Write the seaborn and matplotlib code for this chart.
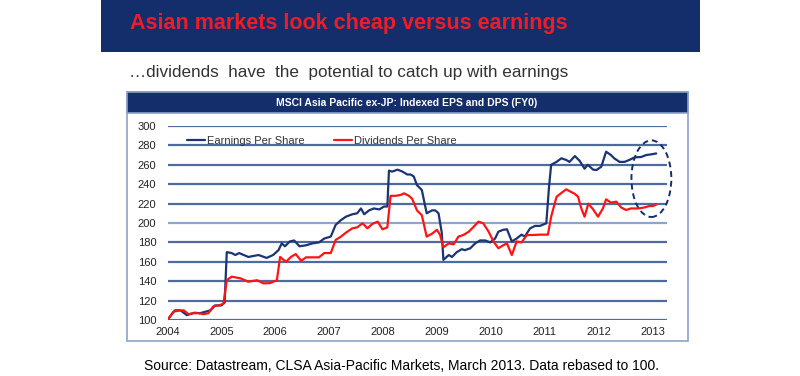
import matplotlib
matplotlib.use("Agg")
import matplotlib.pyplot as plt
from matplotlib.patches import Rectangle, Ellipse
import pandas as pd
import seaborn as sns

# data (decimal years, index rebased to 100)
eps_years = [2004.00, 2004.08, 2004.14, 2004.24, 2004.36, 2004.50, 2004.60, 2004.67, 2004.80, 2004.88,
             2005.00, 2005.06, 2005.10, 2005.19, 2005.26, 2005.33, 2005.50, 2005.69, 2005.84, 2005.96,
             2006.06, 2006.12, 2006.18, 2006.27, 2006.35, 2006.45, 2006.57, 2006.69, 2006.81, 2006.91,
             2007.03, 2007.12, 2007.22, 2007.31, 2007.43, 2007.52, 2007.59, 2007.65, 2007.74, 2007.83,
             2007.93, 2008.02, 2008.08, 2008.11, 2008.17, 2008.27, 2008.36, 2008.45, 2008.51, 2008.57,
             2008.63, 2008.72, 2008.81, 2008.91, 2008.97, 2009.03, 2009.09, 2009.12, 2009.22, 2009.28,
             2009.37, 2009.46, 2009.52, 2009.62, 2009.71, 2009.80, 2009.90, 2009.99, 2010.08, 2010.14,
             2010.23, 2010.30, 2010.39, 2010.48, 2010.57, 2010.63, 2010.73, 2010.82, 2010.91, 2011.03,
             2011.08, 2011.12, 2011.22, 2011.31, 2011.40, 2011.46, 2011.56, 2011.65, 2011.74, 2011.80,
             2011.90, 2011.96, 2012.05, 2012.14, 2012.23, 2012.29, 2012.39, 2012.48, 2012.57, 2012.67,
             2012.79, 2012.88, 2012.98, 2013.07]
eps_values = [100, 106, 110, 110, 105, 107.5, 107, 108, 110, 115,
              115, 118, 170, 169, 167, 169, 165, 167, 164, 167,
              172, 179, 176, 181, 182, 176, 177, 179, 180, 184,
              186, 198, 203, 206.5, 209, 210, 215, 209, 213, 215,
              214, 217, 217, 254, 253, 255, 253, 250, 250, 248,
              239, 234, 210, 213, 213, 210, 190, 162, 167, 165,
              170, 173, 172, 174, 179, 182, 182, 180, 184, 191,
              193, 193.5, 181, 184, 188, 186, 194.5, 197, 197, 199.7,
              237, 260, 263, 266.7, 265, 263, 269, 264, 256, 260,
              255, 254.6, 258, 273.5, 270, 266.7, 263, 263, 265, 267.7,
              268, 270, 270.8, 271.7]

dps_years = [2004.00, 2004.11, 2004.20, 2004.30, 2004.39, 2004.48, 2004.58, 2004.67, 2004.76, 2004.85,
             2004.98, 2005.04, 2005.10, 2005.19, 2005.35, 2005.50, 2005.66, 2005.78, 2005.90, 2006.03,
             2006.09, 2006.20, 2006.29, 2006.38, 2006.48, 2006.57, 2006.70, 2006.81, 2006.91, 2007.03,
             2007.12, 2007.22, 2007.31, 2007.43, 2007.52, 2007.62, 2007.71, 2007.80, 2007.90, 2007.99,
             2008.08, 2008.14, 2008.23, 2008.33, 2008.39, 2008.48, 2008.54, 2008.63, 2008.72, 2008.81,
             2008.91, 2009.00, 2009.06, 2009.12, 2009.22, 2009.31, 2009.40, 2009.49, 2009.59, 2009.68,
             2009.77, 2009.86, 2009.96, 2010.05, 2010.14, 2010.23, 2010.30, 2010.39, 2010.48, 2010.57,
             2010.67, 2010.76, 2010.91, 2011.06, 2011.12, 2011.22, 2011.31, 2011.40, 2011.49, 2011.56,
             2011.62, 2011.68, 2011.74, 2011.81, 2011.90, 2011.99, 2012.08, 2012.14, 2012.23, 2012.33,
             2012.42, 2012.51, 2012.60, 2012.73, 2012.85, 2012.94, 2013.01, 2013.07]
dps_values = [100, 108.6, 109.6, 110, 106, 107, 107, 106, 107, 114,
              115.5, 117, 141, 144.7, 143, 139.5, 141, 137.8, 138, 141,
              165, 160, 165, 168, 161, 164.6, 164.6, 164.6, 169, 169,
              182.5, 186, 190, 194.5, 195.5, 199.7, 194.5, 199, 201.4, 193.5,
              195.5, 228, 228, 229, 230.6, 228, 225, 213, 208, 186,
              189, 193, 187.6, 175, 179, 178, 186, 187.6, 191, 196,
              201.4, 199.7, 191, 181, 174, 177, 179, 167, 181, 180,
              187.6, 187.6, 188, 188, 206.5, 227, 231, 234.7, 232, 230,
              227, 215, 206.5, 220, 214, 206.5, 215, 224.4, 221, 222,
              216, 213.4, 215, 215, 216, 217.5, 217.5, 219]

year_ticks = list(range(2004, 2014))
value_ticks = list(range(100, 301, 20))

eps = pd.DataFrame({"year": eps_years, "value": eps_values})
dps = pd.DataFrame({"year": dps_years, "value": dps_values})

sns.set_theme(style="white")
plt.rcParams["font.family"] = ["Liberation Sans", "DejaVu Sans"]

navy = "#142d6b"
fig = plt.figure(figsize=(8, 3.76), dpi=100)

# banner with title
fig.patches.append(Rectangle((101 / 800, 1 - 52 / 376), 599 / 800, 52 / 376, zorder=-5,
                             transform=fig.transFigure, facecolor=navy, edgecolor="none"))
fig.text(130 / 800, 1 - 23 / 376, "Asian markets look cheap versus earnings", color="#ee1c25",
         fontsize=15.5, fontweight="bold", va="center", ha="left")
fig.text(129 / 800, 1 - 72 / 376, "\u2026dividends  have  the  potential to catch up with earnings",
         color="#333333", fontsize=12.3, va="center", ha="left")

# chart frame and header band
fig.patches.append(Rectangle((127 / 800, 1 - 341 / 376), 561 / 800, 249 / 376, zorder=-5,
                             transform=fig.transFigure, facecolor="white", edgecolor="#8da2c9", lw=1.2))
fig.patches.append(Rectangle((127 / 800, 1 - 113 / 376), 561 / 800, 21 / 376, zorder=-4,
                             transform=fig.transFigure, facecolor=navy, edgecolor="#8da2c9", lw=1.2))
fig.text(407 / 800, 1 - 102.5 / 376, "MSCI Asia Pacific ex-JP: Indexed EPS and DPS (FY0)",
         color="white", fontsize=7.5, fontweight="bold", va="center", ha="center")

ax = fig.add_axes([167.5 / 800, 1 - 320 / 376, 499.5 / 800, 194 / 376])
ax.set_zorder(5)
ax.set_facecolor("none")
for y in value_ticks:
    ax.axhline(y, color="#4d6b9e" if y != 200 else "#8ea5c9", lw=1.6, zorder=0)

sns.lineplot(data=eps, x="year", y="value", ax=ax, color="#1b3474", lw=1.6,
             label="Earnings Per Share", sort=False)
sns.lineplot(data=dps, x="year", y="value", ax=ax, color="#ff1414", lw=1.6,
             label="Dividends Per Share", sort=False)

ax.add_patch(Ellipse((2012.98, 245.7), 0.74, 79, fill=False, edgecolor=navy, lw=1.4,
                     ls=(0, (3, 2)), clip_on=False))

ax.set_xlim(2004, 2013.27)
ax.set_ylim(100, 300)
ax.set_xticks(year_ticks)
ax.set_yticks(value_ticks)
ax.tick_params(axis="x", length=3, width=0.8, color="#4d6b9e", direction="out", labelsize=8,
               labelcolor="#222222", pad=2)
ax.tick_params(axis="y", length=0, labelsize=8, labelcolor="#222222", pad=8)
for s in ax.spines.values():
    s.set_visible(False)
ax.set_xlabel("")
ax.set_ylabel("")
ax.legend(loc="upper left", bbox_to_anchor=(0.02, 1.0), ncol=2, frameon=False, fontsize=8,
          handlelength=1.6, handletextpad=0.2, columnspacing=2.6, labelcolor="#333333")

fig.text(401 / 800, 1 - 366 / 376,
         "Source: Datastream, CLSA Asia-Pacific Markets, March 2013. Data rebased to 100.",
         color="black", fontsize=10, va="center", ha="center")

fig.savefig("out.png", dpi=100)
